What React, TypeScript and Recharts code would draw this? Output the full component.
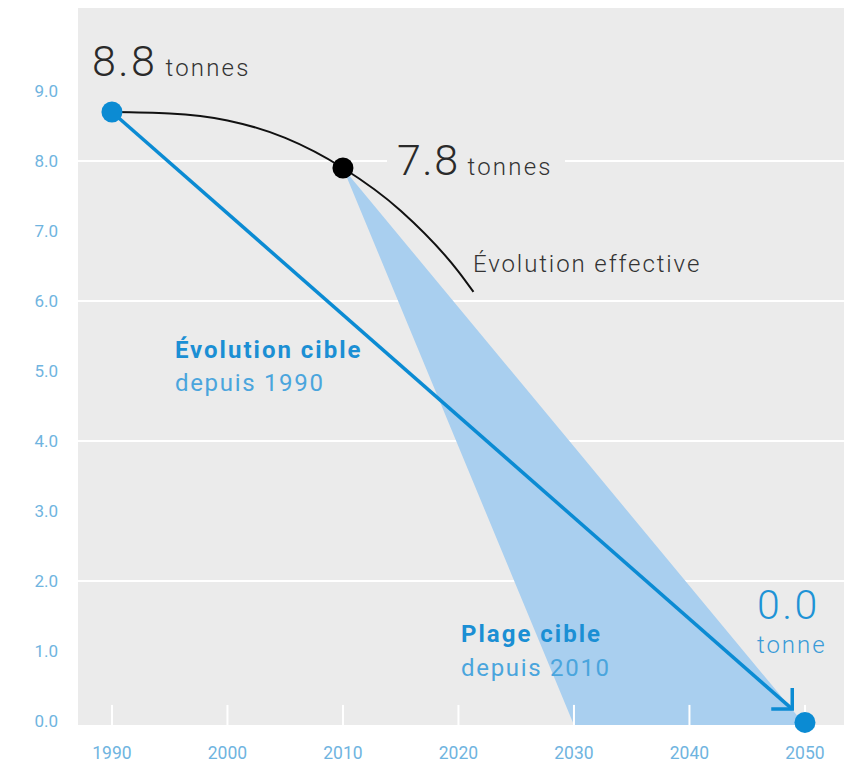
import React from 'react';
import {
  ComposedChart,
  XAxis,
  YAxis,
  CartesianGrid,
  Line,
  Area,
  Scatter,
  ReferenceLine,
  ReferenceDot,
} from 'recharts';

// ---------- data ----------
const YEAR_TICKS = [1990, 2000, 2010, 2020, 2030, 2040, 2050];
const VALUE_TICKS = [0, 1, 2, 3, 4, 5, 6, 7, 8, 9];
const GRID_VALUES = [2, 4, 6, 8];

// "Évolution effective" (black curve)
const EFFECTIVE_YEARS = [1990, 1995, 2000, 2005, 2010, 2015, 2020, 2021.3];
const EFFECTIVE_VALUES = [8.7, 8.68, 8.58, 8.33, 7.9, 7.29, 6.42, 6.13];

// "Évolution cible depuis 1990" (blue arrow)
const TARGET_YEARS = [1990, 2048.9];
const TARGET_VALUES = [8.7, 0.17];

// highlighted points
const BLUE_POINT_YEARS = [1990, 2050];
const BLUE_POINT_VALUES = [8.7, -0.02];
const BLACK_POINT_YEARS = [2010];
const BLACK_POINT_VALUES = [7.9];

// "Plage cible depuis 2010" (band down to the axis floor)
const AXIS_FLOOR = -0.057;
const AXIS_TOP = 10.186;
const BAND_YEARS = [2010, 2030, 2050];
const BAND_LOW = [7.9, AXIS_FLOOR, AXIS_FLOOR];
const BAND_HIGH = [7.9, 3.92, AXIS_FLOOR];

const X_DOMAIN: [number, number] = [1987.06, 2053.38];

// ---------- derived tables ----------
const effectiveData = EFFECTIVE_YEARS.map((year, i) => ({ year, value: EFFECTIVE_VALUES[i] }));
const targetData = TARGET_YEARS.map((year, i) => ({ year, value: TARGET_VALUES[i] }));
const bluePoints = BLUE_POINT_YEARS.map((year, i) => ({ year, value: BLUE_POINT_VALUES[i] }));
const blackPoints = BLACK_POINT_YEARS.map((year, i) => ({ year, value: BLACK_POINT_VALUES[i] }));
const bandData = BAND_YEARS.map((year, i) => ({ year, range: [BAND_LOW[i], BAND_HIGH[i]] }));

// ---------- styles ----------
const FONT = "Roboto, 'Noto Sans', sans-serif";
const BLUE = '#0b8bd3';
const LIGHT_BLUE = '#a9cfef';
const TICK_BLUE = '#6fb4e0';
const TEXT_DARK = '#2a2a2a';
const BG = '#ebebeb';

const arrowDot = (props: any) => {
  const { cx, cy, index } = props;
  if (index !== TARGET_YEARS.length - 1) return <g key={`arrow-${index}`} />;
  return (
    <path
      key={`arrow-${index}`}
      d={`M${cx - 21},${cy} L${cx},${cy} L${cx},${cy - 21}`}
      fill="none"
      stroke={BLUE}
      strokeWidth={3.5}
      strokeLinejoin="miter"
    />
  );
};

const circleShape = (fill: string, r: number) => (p: any) => (
  <circle cx={p.cx} cy={p.cy} r={r} fill={fill} />
);

type Annot = { year: number; value: number; render: (x: number, y: number) => React.ReactNode };

const ANNOTATIONS: Annot[] = [
  {
    year: 1988.27,
    value: 9.21,
    render: (x, y) => (
      <text x={x} y={y} fontFamily={FONT} fill={TEXT_DARK}>
        <tspan fontSize={43} fontWeight={300} letterSpacing={2.5}>8.8</tspan>
        <tspan dx={8} fontSize={24} fontWeight={300} letterSpacing={2.2} fill="#333">tonnes</tspan>
      </text>
    ),
  },
  {
    year: 2014.68,
    value: 7.8,
    render: (x, y) => (
      <g>
        <rect x={x - 10} y={y - 24} width={178} height={22} fill={BG} />
        <text x={x} y={y} fontFamily={FONT} fill={TEXT_DARK}>
          <tspan fontSize={43} fontWeight={300} letterSpacing={1.5}>7.8</tspan>
          <tspan dx={8} fontSize={24} fontWeight={300} letterSpacing={2.2} fill="#333">tonnes</tspan>
        </text>
      </g>
    ),
  },
  {
    year: 2021.26,
    value: 6.42,
    render: (x, y) => (
      <text x={x} y={y} fontFamily={FONT} fontSize={24} fontWeight={300} letterSpacing={1.9} fill="#333">
        Évolution effective
      </text>
    ),
  },
  {
    year: 1995.45,
    value: 5.19,
    render: (x, y) => (
      <text x={x} y={y} fontFamily={FONT} fontSize={24}>
        <tspan x={x} fontWeight={700} fill="#1b8fd4" letterSpacing={2}>Évolution cible</tspan>
        <tspan x={x} dy={33} fontWeight={400} fill="#4aa5dd" letterSpacing={1.7}>depuis 1990</tspan>
      </text>
    ),
  },
  {
    year: 2020.22,
    value: 1.13,
    render: (x, y) => (
      <text x={x} y={y} fontFamily={FONT} fontSize={24}>
        <tspan x={x} fontWeight={700} fill="#1b8fd4" letterSpacing={2}>Plage cible</tspan>
        <tspan x={x} dy={34} fontWeight={400} fill="#4aa5dd" letterSpacing={1.7}>depuis 2010</tspan>
      </text>
    ),
  },
  {
    year: 2045.84,
    value: 1.46,
    render: (x, y) => (
      <text x={x} y={y} fontFamily={FONT} fill="#1e93d6">
        <tspan x={x} fontSize={41} fontWeight={300} letterSpacing={2.5}>0.0</tspan>
        <tspan x={x} dy={34} fontSize={24} fontWeight={300} letterSpacing={2} fill="#3a9bd8">tonne</tspan>
      </text>
    ),
  },
];

export default function App() {
  return (
    <div style={{ position: 'absolute', left: 0, top: 0, width: 844, height: 764, background: '#fff' }}>
      <ComposedChart width={844} height={764} margin={{ top: 8, right: 0, bottom: 0, left: 0 }}>
        <CartesianGrid
          fill={BG}
          vertical={false}
          horizontalValues={GRID_VALUES}
          stroke="#ffffff"
          strokeWidth={2}
        />
        <XAxis
          type="number"
          dataKey="year"
          domain={X_DOMAIN}
          ticks={YEAR_TICKS}
          axisLine={false}
          tickLine={false}
          tickSize={0}
          tickMargin={22}
          height={39}
          tick={{ fill: TICK_BLUE, fontSize: 17.5, fontFamily: FONT }}
        />
        <YAxis
          type="number"
          domain={[AXIS_FLOOR, AXIS_TOP]}
          ticks={VALUE_TICKS}
          axisLine={false}
          tickLine={false}
          tickSize={0}
          tickMargin={20}
          width={78}
          tickFormatter={(v: number) => v.toFixed(1)}
          tick={{ fill: TICK_BLUE, fontSize: 17, fontFamily: FONT }}
        />
        <Area
          data={bandData}
          dataKey="range"
          type="linear"
          fill={LIGHT_BLUE}
          fillOpacity={1}
          stroke="none"
          isAnimationActive={false}
        />
        {YEAR_TICKS.map((yr) => (
          <ReferenceLine
            key={`tick-${yr}`}
            segment={[{ x: yr, y: AXIS_FLOOR }, { x: yr, y: 0.23 }]}
            stroke="#ffffff"
            strokeWidth={2}
          />
        ))}
        <Line
          data={effectiveData}
          dataKey="value"
          type="monotone"
          stroke="#111111"
          strokeWidth={2}
          dot={false}
          activeDot={false}
          isAnimationActive={false}
        />
        <Line
          data={targetData}
          dataKey="value"
          type="linear"
          stroke={BLUE}
          strokeWidth={3.5}
          dot={arrowDot}
          activeDot={false}
          isAnimationActive={false}
        />
        <Scatter data={bluePoints} dataKey="value" shape={circleShape(BLUE, 10.5)} isAnimationActive={false} />
        <Scatter data={blackPoints} dataKey="value" shape={circleShape('#000000', 10.5)} isAnimationActive={false} />
        {ANNOTATIONS.map((a, i) => (
          <ReferenceDot
            key={`annot-${i}`}
            x={a.year}
            y={a.value}
            r={0}
            fill="none"
            stroke="none"
            ifOverflow="visible"
            label={(props: any) => {
              const vb = props.viewBox || {};
              return <g>{a.render(vb.x, vb.y)}</g>;
            }}
          />
        ))}
      </ComposedChart>
    </div>
  );
}
